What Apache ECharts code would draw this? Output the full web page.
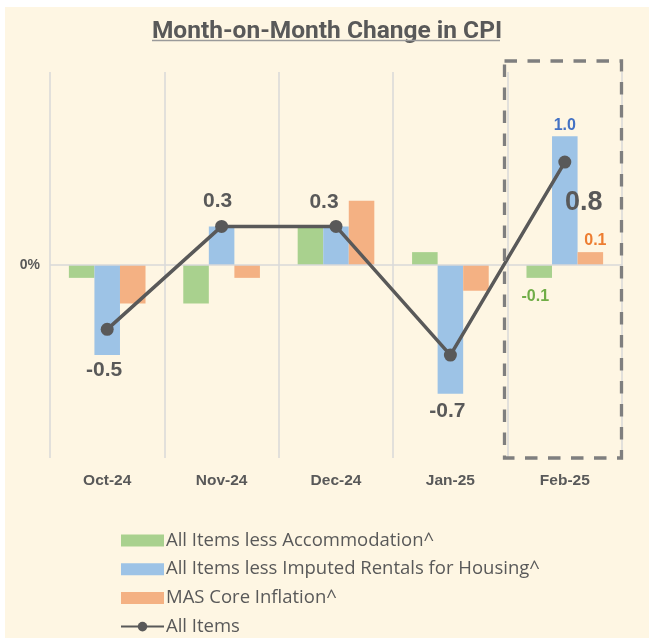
<!DOCTYPE html>
<html>
<head>
<meta charset="utf-8">
<script src="https://cdn.jsdelivr.net/npm/echarts@6/dist/echarts.min.js"></script>
<style>
html,body{margin:0;padding:0;background:#ffffff;}
#chart{position:absolute;left:5px;top:7px;width:644px;height:631px;background:#FEF6E3;}
</style>
</head>
<body>
<div id="chart"></div>
<script>
const categories = ['Oct-24','Nov-24','Dec-24','Jan-25','Feb-25'];
const lessAccommodation = [-0.1, -0.3, 0.3, 0.1, -0.1];
const lessImputedRentals = [-0.7, 0.3, 0.3, -1.0, 1.0];
const masCore = [-0.3, -0.1, 0.5, -0.2, 0.1];
const allItems = [-0.5, 0.3, 0.3, -0.7, 0.8];
const yTicks = [-1.5, 0, 1.5];

const GREEN = '#A9D18E', BLUE = '#9DC3E6', ORANGE = '#F4B183', DARK = '#595959';
const LABEL_FONT = '"Liberation Sans", Arial, sans-serif';

const allLabelOffsets = [[-3, 41], [-4, -25], [-12, -24], [-3, 56], [19, 40]];

const chart = echarts.init(document.getElementById('chart'), null, {renderer: 'canvas'});

function barData(values, featureIdx, labelCfg) {
  return values.map((v, i) => {
    const d = {value: v};
    if (i === featureIdx && labelCfg) d.label = labelCfg;
    return d;
  });
}

const option = {
  backgroundColor: 'transparent',
  animation: false,
  title: {
    text: 'Month-on-Month Change in CPI',
    left: 'center',
    top: 7,
    textStyle: {fontFamily: 'Roboto, sans-serif', fontWeight: 'bold', fontSize: 24.5, color: DARK}
  },
  grid: {left: 45, right: 27, top: 65, bottom: 180, containLabel: false},
  legend: {
    orient: 'vertical',
    left: 115,
    top: 524,
    height: 125,
    padding: 0,
    itemWidth: 43,
    itemHeight: 12,
    itemGap: 9.7,
    textStyle: {fontFamily: '"Open Sans", sans-serif', fontSize: 18.5, color: DARK, lineHeight: 17, padding: [0, 0, 0, -3]},
    data: [
      {name: 'All Items less Accommodation^', icon: 'rect'},
      {name: 'All Items less Imputed Rentals for Housing^', icon: 'rect'},
      {name: 'MAS Core Inflation^', icon: 'rect'},
      {name: 'All Items'}
    ]
  },
  xAxis: {
    type: 'category',
    data: categories,
    boundaryGap: true,
    axisLine: {show: false},
    axisTick: {show: false},
    splitLine: {show: true, lineStyle: {color: '#D9D9D9', width: 1.5}},
    axisLabel: {margin: 15, fontFamily: LABEL_FONT, fontWeight: 'bold', fontSize: 15.5, color: DARK}
  },
  yAxis: {
    type: 'value',
    min: yTicks[0],
    max: yTicks[2],
    interval: 1.5,
    axisLine: {show: false},
    axisTick: {show: false},
    splitLine: {show: false},
    axisLabel: {
      margin: 10,
      fontFamily: LABEL_FONT, fontWeight: 'bold', fontSize: 14, color: DARK,
      formatter: v => (v === 0 ? '0%' : '')
    }
  },
  series: [
    {
      name: 'All Items less Accommodation^',
      type: 'bar',
      barGap: '0%',
      barCategoryGap: '33%',
      itemStyle: {color: GREEN},
      data: barData(lessAccommodation, 4, {
        show: true, position: 'inside', offset: [-4, 25],
        formatter: p => p.value.toFixed(1),
        fontFamily: LABEL_FONT, fontWeight: 'bold', fontSize: 16, color: '#70AD47'
      }),
      markLine: {
        silent: true, symbol: 'none', label: {show: false},
        lineStyle: {color: '#D9D9D9', width: 1.5, type: 'solid'},
        data: [{yAxis: 0}]
      },
      z: 2
    },
    {
      name: 'All Items less Imputed Rentals for Housing^',
      type: 'bar',
      barGap: '0%',
      barCategoryGap: '33%',
      itemStyle: {color: BLUE},
      data: barData(lessImputedRentals, 4, {
        show: true, position: 'top', distance: 3,
        formatter: p => p.value.toFixed(1),
        fontFamily: LABEL_FONT, fontWeight: 'bold', fontSize: 16, color: '#4472C4'
      }),
      z: 2
    },
    {
      name: 'MAS Core Inflation^',
      type: 'bar',
      barGap: '0%',
      barCategoryGap: '33%',
      itemStyle: {color: ORANGE},
      data: barData(masCore, 4, {
        show: true, position: 'top', distance: 4, offset: [5, 0],
        formatter: p => p.value.toFixed(1),
        fontFamily: LABEL_FONT, fontWeight: 'bold', fontSize: 16, color: '#ED7D31'
      }),
      z: 2
    },
    {
      name: 'All Items',
      type: 'line',
      symbol: 'circle',
      symbolSize: 13,
      lineStyle: {color: DARK, width: 3.5},
      itemStyle: {color: DARK},
      data: allItems.map((v, i) => ({
        value: v,
        label: {
          show: true, position: 'inside', offset: allLabelOffsets[i],
          formatter: p => p.value.toFixed(1),
          fontFamily: LABEL_FONT, fontWeight: 'bold',
          fontSize: i === 4 ? 27 : 21, color: DARK
        }
      })),
      z: 5
    }
  ],
  graphic: [
    {
      type: 'rect',
      shape: {x: 499.5, y: 54, width: 117, height: 397},
      style: {fill: 'none', stroke: '#7F7F7F', lineWidth: 3.3, lineDash: [12.5, 10.5]},
      z: 10
    },
    {
      type: 'line',
      id: 'underline',
      shape: {x1: 147, y1: 33.5, x2: 495, y2: 33.5},
      style: {stroke: '#9A9A9A', lineWidth: 1.5},
      z: 10
    }
  ]
};

chart.setOption(option);
</script>
</body>
</html>
